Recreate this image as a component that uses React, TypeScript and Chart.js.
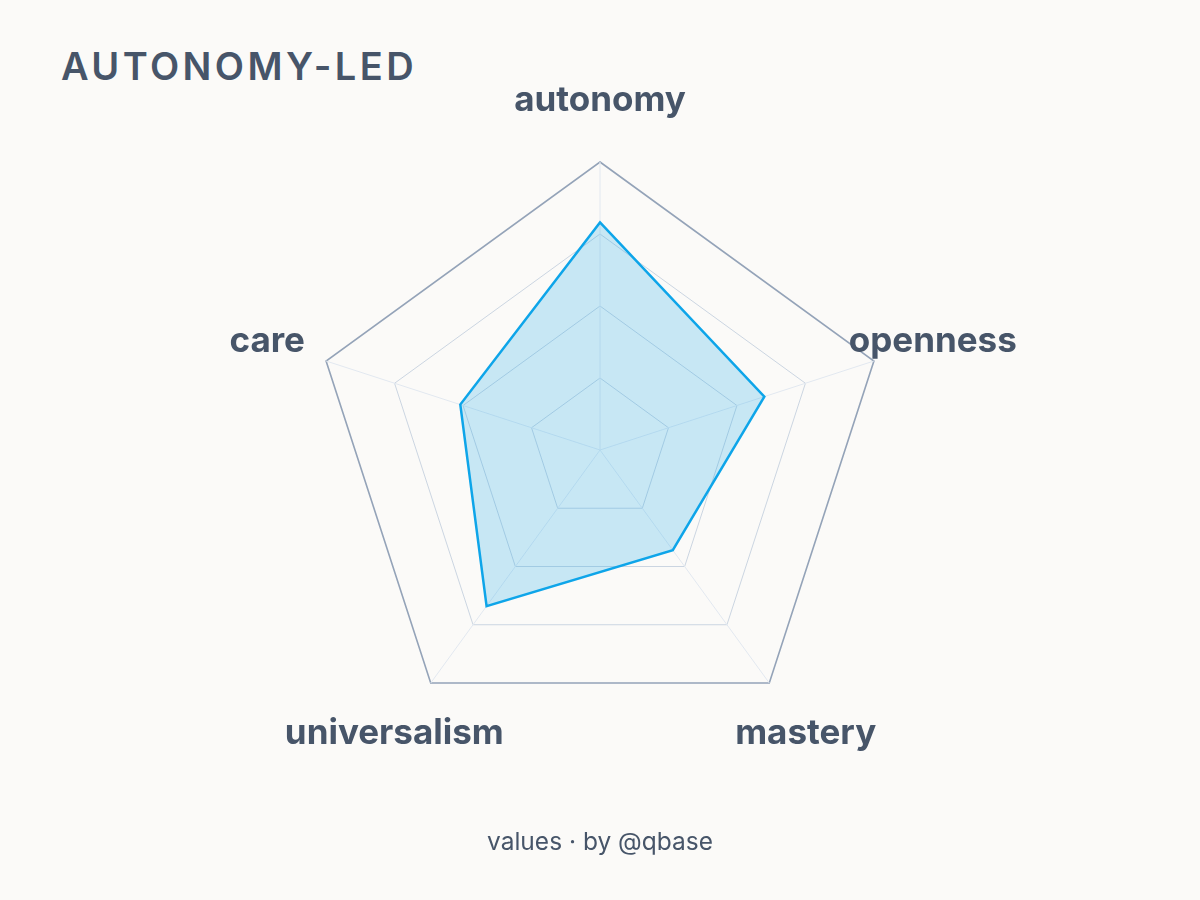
import { useEffect, useRef } from "react"
import { Chart, ChartConfiguration, Plugin, registerables } from "chart.js"

Chart.register(...registerables)

const axes = ["autonomy", "openness", "mastery", "universalism", "care"]
const scores = [79, 60, 43, 67, 51]
const scaleMax = 100
const scaleStep = 25

const INK = "#475569"
const FONT = "Inter, 'Noto Sans', sans-serif"

// draws the axis names centred on each spoke, a bit outside the outer ring
const centredLabels: Plugin<"radar"> = {
  id: "centredLabels",
  afterDraw(chart) {
    const scale: any = chart.scales.r
    const ctx = chart.ctx
    ctx.save()
    ctx.fillStyle = INK
    ctx.font = `700 35px ${FONT}`
    ctx.textAlign = "center"
    ctx.textBaseline = "middle"
    axes.forEach((name, i) => {
      const p = scale.getPointPosition(i, scale.drawingArea * 1.215)
      ctx.fillText(name, p.x, p.y)
    })
    ctx.restore()
  },
}

export default function App() {
  const chartRef = useRef<HTMLCanvasElement>(null)
  const chartInstanceRef = useRef<Chart | null>(null)

  useEffect(() => {
    if (!chartRef.current) return
    if (chartInstanceRef.current) chartInstanceRef.current.destroy()

    const config: ChartConfiguration<"radar"> = {
      type: "radar",
      data: {
        labels: axes,
        datasets: [
          {
            label: "values",
            data: scores,
            borderColor: "#0ea5e9",
            backgroundColor: "rgba(14, 165, 233, 0.22)",
            borderWidth: 2.5,
            fill: true,
            pointRadius: 0,
            pointHoverRadius: 0,
          },
        ],
      },
      options: {
        responsive: true,
        maintainAspectRatio: false,
        animation: false,
        layout: {
          padding: { top: 162, bottom: 162, left: 312, right: 312 },
        },
        plugins: {
          legend: { display: false },
          tooltip: { enabled: false },
        },
        scales: {
          r: {
            min: 0,
            max: scaleMax,
            ticks: { stepSize: scaleStep, display: false },
            pointLabels: { display: false },
            grid: {
              color: (c) => (c.index === 4 ? "#94a3b8" : "#cbd5e1"),
              lineWidth: (c) => (c.index === 4 ? 1.6 : 1),
            },
            angleLines: { color: "#e2e8f0", lineWidth: 1 },
          },
        },
      },
      plugins: [centredLabels],
    }

    chartInstanceRef.current = new Chart(chartRef.current, config)

    return () => {
      if (chartInstanceRef.current) {
        chartInstanceRef.current.destroy()
        chartInstanceRef.current = null
      }
    }
  }, [])

  return (
    <div
      style={{
        position: "absolute",
        left: 0,
        top: 0,
        width: 1200,
        height: 900,
        background: "#fbfaf8",
        fontFamily: FONT,
        color: INK,
      }}
    >
      <div
        style={{
          position: "absolute",
          left: 61,
          top: 47,
          fontSize: 38,
          fontWeight: 600,
          letterSpacing: 3.4,
          lineHeight: 1,
        }}
      >
        AUTONOMY-LED
      </div>
      <div style={{ position: "absolute", left: 0, top: 0, width: 1200, height: 900 }}>
        <canvas ref={chartRef} />
      </div>
      <div
        style={{
          position: "absolute",
          left: 0,
          width: 1200,
          top: 826,
          textAlign: "center",
          fontSize: 24.5,
          lineHeight: "30px",
        }}
      >
        values · by @qbase
      </div>
    </div>
  )
}
